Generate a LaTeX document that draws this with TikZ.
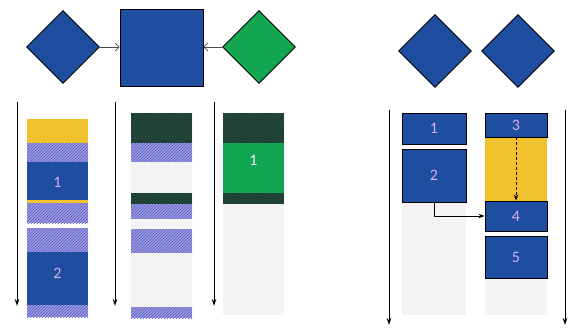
\documentclass[tikz,border=0pt]{standalone}
\usepackage{fontspec}
\setmainfont{Carlito}
\usetikzlibrary{shapes.geometric,arrows.meta,patterns}
\definecolor{dblue}{HTML}{1F4EA0}
\definecolor{dgreen}{HTML}{12A650}
\definecolor{dyel}{HTML}{F2C12E}
\definecolor{hatchbg}{HTML}{9C9CE0}
\definecolor{hatchln}{HTML}{5A5AC8}
\definecolor{darkbg}{HTML}{1C3A30}
\definecolor{darkln}{HTML}{2E5548}
\definecolor{lgray}{HTML}{F3F3F3}
\definecolor{lbl}{HTML}{D8B0F0}
\tikzset{
  dia/.style={diamond, draw=black, line width=0.9pt, minimum width=73pt, minimum height=73pt, inner sep=0pt},
  blk/.style={draw=black, line width=0.9pt, fill=dblue, inner sep=0pt, text=lbl, font=\fontsize{16}{16}\selectfont},
  tl/.style={-{Stealth[length=7pt,width=4.5pt]}, line width=1pt},
  hatch/.style={fill=hatchbg, postaction={pattern={north east lines}, pattern color=hatchln}},
  dhatch/.style={fill=darkbg, postaction={pattern={north east lines}, pattern color=darkln}},
  lab/.style={text=lbl, font=\fontsize{16}{16}\selectfont},
}
\begin{document}
\begin{tikzpicture}[x=1pt,y=-1pt]
\useasboundingbox (0,0) rectangle (571,330);
% top left
\node[dia, fill=dblue] (d1) at (63,47) {};
\node[draw=black, line width=0.9pt, fill=dblue, minimum width=83pt, minimum height=77pt, inner sep=0pt] (sq) at (161.5,47.5) {};
\node[dia, fill=dgreen] (d2) at (259,47) {};
\draw[-{Straight Barb[length=4pt]}, line width=0.7pt, draw=black!70] (d1.east) -- (sq.west |- d1.east);
\draw[-{Straight Barb[length=4pt]}, line width=0.7pt, draw=black!70] (d2.west) -- (sq.east |- d2.west);
% timelines
\coordinate (a1s) at (17,102); \coordinate (a1e) at (17,306);
\coordinate (a2s) at (115,102); \coordinate (a2e) at (115,306);
\coordinate (a3s) at (214,102); \coordinate (a3e) at (214,306);
\draw[tl] (a1s) -- (a1e);
\draw[tl] (a2s) -- (a2e);
\draw[tl] (a3s) -- (a3e);
% column 1
\fill[dyel] (27,119) rectangle (88,143);
\path[hatch] (27,143) rectangle (88,162);
\fill[dblue] (27,162) rectangle (88,200);
\node[lab] (c1a) at (57.5,182) {1};
\fill[dyel] (27,200) rectangle (88,203);
\path[hatch] (27,203) rectangle (88,223);
\path[hatch] (27,228) rectangle (88,252);
\fill[dblue] (27,252) rectangle (88,305);
\node[lab] (c1b) at (57.5,273) {2};
\path[hatch] (27,305) rectangle (88,317);
% column 2
\path[dhatch] (131,113) rectangle (192,143);
\path[hatch] (131,143) rectangle (192,162);
\fill[lgray] (131,162) rectangle (192,193);
\path[dhatch] (131,193) rectangle (192,204);
\path[hatch] (131,204) rectangle (192,219);
\fill[lgray] (131,219) rectangle (192,229);
\path[hatch] (131,229) rectangle (192,253);
\fill[lgray] (131,253) rectangle (192,307);
\path[hatch] (131,307) rectangle (192,318);
% column 3
\path[dhatch] (223,113) rectangle (284,143);
\fill[dgreen] (223,143) rectangle (284,193);
\node[lab, text=white!80!lbl] (c3a) at (253.5,160) {1};
\path[dhatch] (223,193) rectangle (284,204);
\fill[lgray] (223,204) rectangle (284,315);
% right side
\node[dia, fill=dblue] (d3) at (435,51) {};
\node[dia, fill=dblue] (d4) at (518,51) {};
\coordinate (b1s) at (389,110); \coordinate (b1e) at (389,325);
\coordinate (b2s) at (565,110); \coordinate (b2e) at (565,325);
\draw[tl] (b1s) -- (b1e);
\draw[tl] (b2s) -- (b2e);
\fill[lgray] (402,202) rectangle (466,315);
\fill[lgray] (485,278) rectangle (547,315);
\fill[dyel] (485,137) rectangle (547,201);
\node[blk, minimum width=64pt, minimum height=31pt] (r1) at (434,128.5) {1};
\node[blk, minimum width=64pt, minimum height=53pt] (r2) at (434,175.5) {2};
\node[blk, minimum width=62pt, minimum height=24pt] (r3) at (516,125) {3};
\node[blk, minimum width=62pt, minimum height=30pt] (r4) at (516,216) {4};
\node[blk, minimum width=62pt, minimum height=42pt] (r5) at (516,257) {5};
\draw[-{Stealth[length=6pt,width=4.5pt]}, dash pattern=on 3pt off 2pt, line width=1pt] (r3.south) -- (r4.north);
\draw[-{Stealth[length=6pt,width=4.5pt]}, line width=1pt] (r2.south) |- (r4.west);
\end{tikzpicture}
\end{document}
